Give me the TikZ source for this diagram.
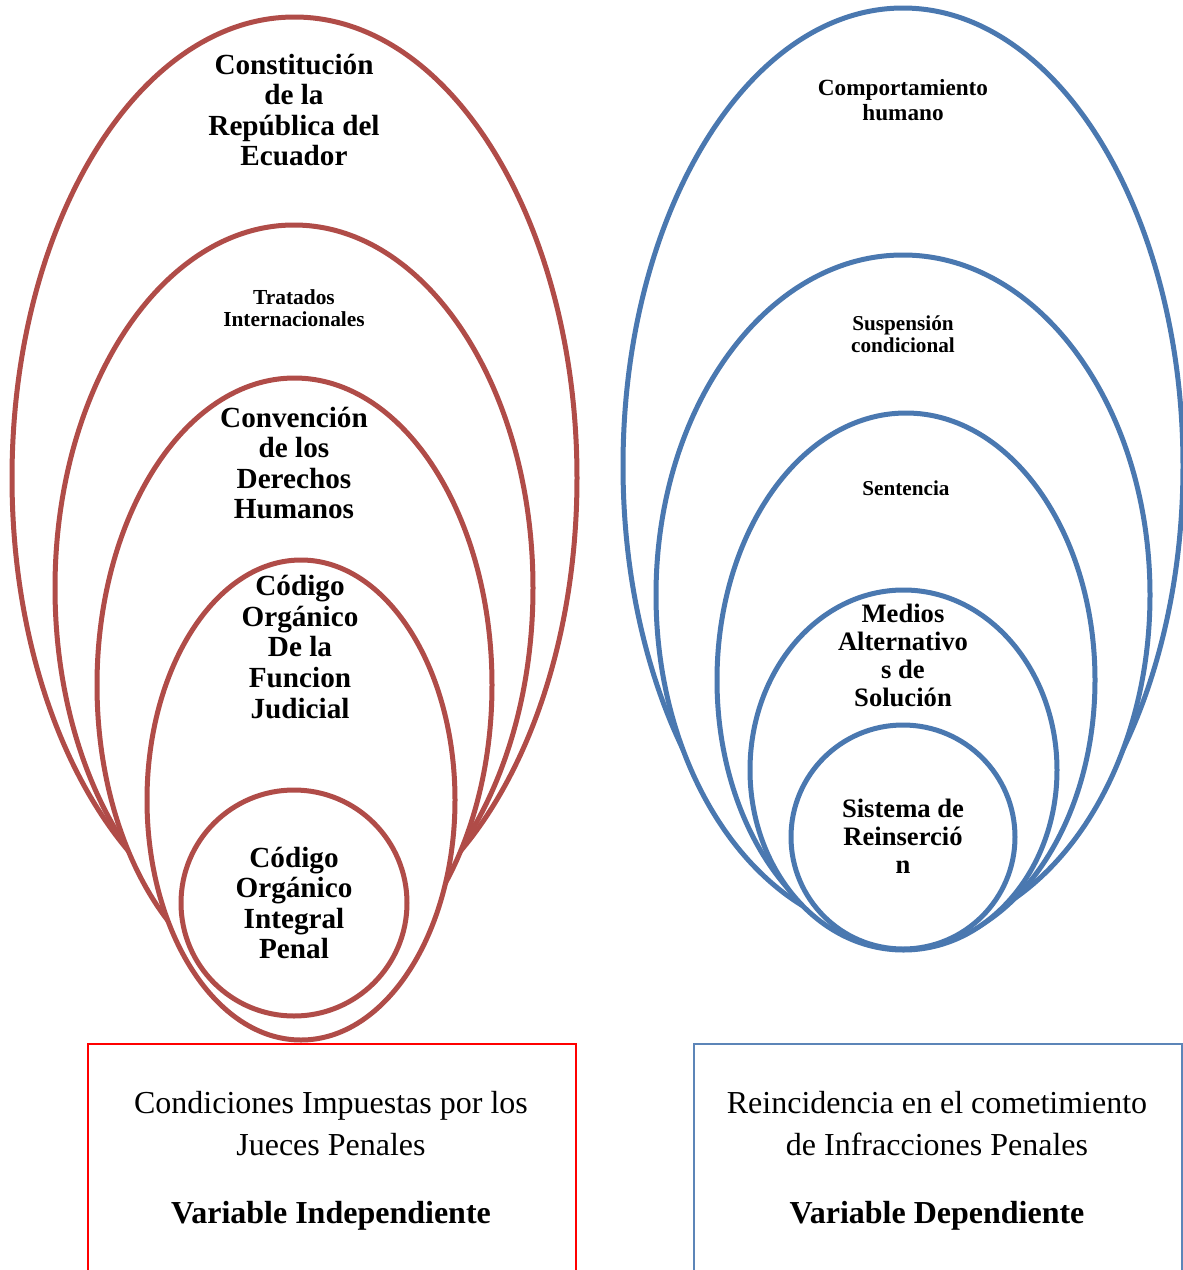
\documentclass[tikz,border=0pt]{standalone}
\usepackage{fontspec}
\setmainfont{Liberation Serif}
\usepackage{tikz}
\usetikzlibrary{shapes}
\definecolor{redline}{RGB}{176,76,72}
\definecolor{blueline}{RGB}{74,120,176}
\tikzstyle{ring}=[draw,fill=white,ellipse,line width=2.5pt,inner sep=0pt]

\begin{document}
\begin{tikzpicture}[x=0.5pt,y=-0.5pt]
\tikzstyle{big}=[align=center,inner sep=0pt,font=\fontsize{14.6}{15.3}\selectfont\bfseries]
\tikzstyle{mid}=[align=center,inner sep=0pt,font=\fontsize{13.3}{14}\selectfont\bfseries]
\tikzstyle{small}=[align=center,inner sep=0pt,font=\fontsize{10.7}{11}\selectfont\bfseries]
\tikzstyle{boxtext}=[align=center,inner sep=0pt,font=\fontsize{16}{21}\selectfont]
\useasboundingbox (0,0) rectangle (1183,1270);

% independiente
\node [ring,draw=redline,minimum width=282.5pt,minimum height=461pt] (r1) at (294.5,478) {};
\node [ring,draw=redline,minimum width=239pt,minimum height=363pt] (r2) at (294,588) {};
\node [ring,draw=redline,minimum width=197.5pt,minimum height=307pt] (r3) at (294.5,685) {};
\node [ring,draw=redline,minimum width=154pt,minimum height=240pt] (r4) at (301,800) {};
\node [ring,draw=redline,minimum width=113pt,minimum height=113pt] (r5) at (294,903) {};

\node [big] (t1) at (294,110) {Constitución\\de la\\República del\\Ecuador};
\node [small] (t2) at (294,308) {Tratados\\Internacionales};
\node [big] (t3) at (294,463) {Convención\\de los\\Derechos\\Humanos};
\node [big] (t4) at (300,647) {Código\\Orgánico\\De la\\Funcion\\Judicial};
\node [big] (t5) at (294,903) {Código\\Orgánico\\Integral\\Penal};

% dependiente
\node [ring,draw=blueline,minimum width=280pt,minimum height=458pt] (b1) at (903,466) {};
\node [ring,draw=blueline,minimum width=247pt,minimum height=340pt] (b2) at (903,595) {};
\node [ring,draw=blueline,minimum width=189pt,minimum height=267pt] (b3) at (906,680) {};
\node [ring,draw=blueline,minimum width=153.5pt,minimum height=180pt] (b4) at (903.5,770) {};
\node [ring,draw=blueline,minimum width=112pt,minimum height=112pt] (b5) at (903,837) {};

\node [small,font=\fontsize{11.6}{12.5}\selectfont\bfseries] (s1) at (903,100) {Comportamiento\\humano};
\node [small,font=\fontsize{10.6}{11}\selectfont\bfseries] (s2) at (903,334) {Suspensión\\condicional};
\node [small,font=\fontsize{10.6}{11}\selectfont\bfseries] (s3) at (906,488) {Sentencia};
\node [mid] (s4) at (903,655) {Medios\\Alternativo\\s de\\Solución};
\node [mid] (s5) at (903,836) {Sistema de\\Reinserció\\n};

% variables
\node [draw=red,line width=0.9pt,anchor=north west,minimum width=244pt,minimum height=130pt] (vi) at (87,1043) {};
\node [draw=blueline!90!white,line width=0.9pt,anchor=north west,minimum width=244pt,minimum height=130pt] (vd) at (693,1043) {};
\node [boxtext] (vi1) at (331,1124) {Condiciones Impuestas por los\\Jueces Penales};
\node [boxtext,font=\fontsize{16}{21}\selectfont\bfseries] (vi2) at (331,1216) {Variable Independiente};
\node [boxtext] (vd1) at (937,1124) {Reincidencia en el cometimiento\\de Infracciones Penales};
\node [boxtext,font=\fontsize{16}{21}\selectfont\bfseries] (vd2) at (937,1216) {Variable Dependiente};
\end{tikzpicture}
\end{document}
